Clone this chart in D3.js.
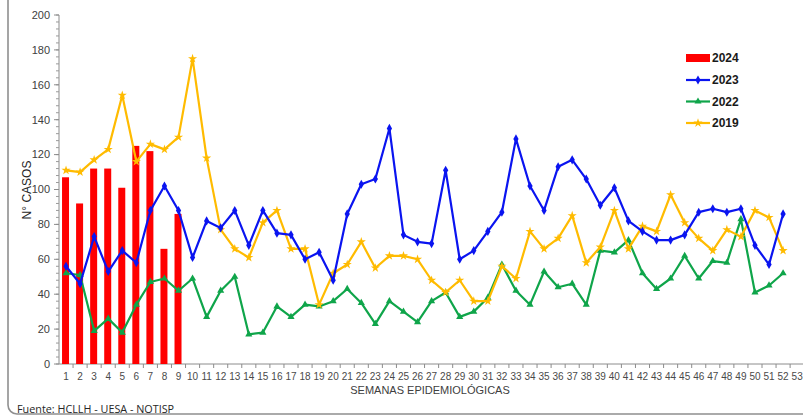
<!DOCTYPE html>
<html>
<head>
<meta charset="utf-8">
<script src="https://cdn.jsdelivr.net/npm/d3@7"></script>
<style>
  html, body { margin: 0; padding: 0; background: #fff; }
  svg { display: block; font-family: "Liberation Sans", Arial, sans-serif; }
</style>
</head>
<body>
<svg id="chart" width="803" height="416"></svg>
<script>
// Weekly case counts by epidemiological week
const weeks = d3.range(1, 54);
const yTicks = [0, 20, 40, 60, 80, 100, 120, 140, 160, 180, 200];

const cases2024 = [107, 92, 112, 112, 101, 125, 122, 66, 86];
const cases2023 = [56, 46, 73, 53, 65, 58, 88, 102, 88, 61, 82, 78, 88, 68, 88, 75, 74, 60, 64, 48,
  86, 103, 106, 135, 74, 70, 69, 111, 60, 65, 76, 87, 129, 102, 88, 113, 117, 106, 91, 101,
  82, 76, 71, 71, 74, 87, 89, 87, 89, 68, 57, 86];
const cases2022 = [52, 51, 19, 26, 18, 34, 47, 49, 42, 49, 27, 42, 50, 17, 18, 33, 27, 34, 33, 36,
  43, 35, 23, 36, 30, 24, 36, 41, 27, 30, 38, 57, 42, 34, 53, 44, 46, 34, 65, 64,
  71, 52, 43, 49, 62, 49, 59, 58, 83, 41, 45, 52];
const cases2019 = [111, 110, 117, 123, 154, 116, 126, 123, 130, 175, 118, 77, 66, 61, 81, 88, 66, 66, 34, 52,
  57, 70, 55, 62, 62, 60, 48, 41, 48, 36, 36, 56, 49, 76, 66, 72, 85, 58, 67, 88,
  66, 79, 76, 97, 81, 72, 65, 77, 73, 88, 84, 65];

const svg = d3.select("#chart");
const margin = { left: 59, top: 15, bottom: 52 };
const W = 803, H = 416;

// Outer frame
svg.append("rect")
  .attr("x", 8).attr("y", -20)
  .attr("width", 820).attr("height", 434)
  .attr("rx", 9).attr("ry", 9)
  .attr("fill", "none")
  .attr("stroke", "#8f8f8f")
  .attr("stroke-width", 1.6);

const x = d3.scaleBand()
  .domain(weeks)
  .range([margin.left, margin.left + 53 * 14.06])
  .paddingInner(0).paddingOuter(0);

const y = d3.scaleLinear()
  .domain([0, 200])
  .range([H - margin.bottom, margin.top]);

// Y axis with minor ticks every 4
const yMinor = d3.range(0, 201, 4);
const yAxisG = svg.append("g").attr("transform", `translate(${margin.left},0)`);
yAxisG.append("line")
  .attr("x1", 0).attr("x2", 0)
  .attr("y1", y(200)).attr("y2", y(0))
  .attr("stroke", "#8c8c8c").attr("stroke-width", 1);
yAxisG.selectAll("line.minor").data(yMinor).join("line")
  .attr("class", "minor")
  .attr("x1", -3).attr("x2", 0)
  .attr("y1", d => y(d)).attr("y2", d => y(d))
  .attr("stroke", "#9a9a9a");
yAxisG.selectAll("line.major").data(yTicks).join("line")
  .attr("class", "major")
  .attr("x1", -5).attr("x2", 0)
  .attr("y1", d => y(d)).attr("y2", d => y(d))
  .attr("stroke", "#8c8c8c");
yAxisG.selectAll("text").data(yTicks).join("text")
  .attr("x", -9).attr("y", d => y(d))
  .attr("dy", "0.35em")
  .attr("text-anchor", "end")
  .attr("font-size", 11)
  .attr("fill", "#404040")
  .text(d => d);

// X axis: ticks at band boundaries
const xAxisG = svg.append("g");
xAxisG.append("line")
  .attr("x1", margin.left).attr("x2", W)
  .attr("y1", y(0)).attr("y2", y(0))
  .attr("stroke", "#8c8c8c");
xAxisG.selectAll("line.tick").data(weeks).join("line")
  .attr("class", "tick")
  .attr("x1", d => x(d) + x.bandwidth()).attr("x2", d => x(d) + x.bandwidth())
  .attr("y1", y(0)).attr("y2", y(0) + 4)
  .attr("stroke", "#8c8c8c");
xAxisG.selectAll("text").data(weeks).join("text")
  .attr("x", d => x(d) + x.bandwidth() / 2)
  .attr("y", y(0) + 16)
  .attr("text-anchor", "middle")
  .attr("font-size", 10)
  .attr("fill", "#4a4a4a")
  .text(d => d);

// Axis titles
svg.append("text")
  .attr("x", 430).attr("y", 394)
  .attr("text-anchor", "middle")
  .attr("font-size", 11)
  .attr("fill", "#404040")
  .text("SEMANAS EPIDEMIOLÓGICAS");
svg.append("text")
  .attr("transform", "translate(31,190) rotate(-90)")
  .attr("text-anchor", "middle")
  .attr("font-size", 12)
  .attr("fill", "#262626")
  .text("N° CASOS");

// Source note
svg.append("text")
  .attr("x", 17).attr("y", 413)
  .attr("font-family", "'Open Sans', 'DejaVu Sans', sans-serif")
  .attr("font-size", 10.8)
  .attr("fill", "#262626")
  .text("Fuente: HCLLH - UESA - NOTISP");

// 2024 bars
const barW = 7;
svg.append("g").selectAll("rect").data(cases2024).join("rect")
  .attr("x", (d, i) => x(weeks[i]) + x.bandwidth() / 2 - barW / 2 - 0.5)
  .attr("y", d => y(d))
  .attr("width", barW)
  .attr("height", d => y(0) - y(d))
  .attr("fill", "#ff0000");

// Line series
const series = [
  { name: "2023", data: cases2023, color: "#0a14f0", symbol: d3.symbolDiamond, size: 24 },
  { name: "2022", data: cases2022, color: "#0fa54a", symbol: d3.symbolTriangle, size: 22 },
  { name: "2019", data: cases2019, color: "#ffbb00", symbol: d3.symbolStar, size: 26 }
];
const drawOrder = [series[1], series[2], series[0]];
const line = d3.line()
  .x((d, i) => x(weeks[i]) + x.bandwidth() / 2)
  .y(d => y(d));

drawOrder.forEach(s => {
  const g = svg.append("g");
  g.append("path")
    .datum(s.data)
    .attr("d", line)
    .attr("fill", "none")
    .attr("stroke", s.color)
    .attr("stroke-width", 2.2)
    .attr("stroke-linejoin", "round");
  g.selectAll("path.marker").data(s.data).join("path")
    .attr("class", "marker")
    .attr("transform", (d, i) => `translate(${x(weeks[i]) + x.bandwidth() / 2},${y(d)})`)
    .attr("d", d3.symbol().type(s.symbol).size(s.size))
    .attr("fill", s.color);
});

// Legend
const legend = svg.append("g").attr("transform", "translate(686,0)");
legend.append("rect")
  .attr("x", 0).attr("y", 54).attr("width", 24).attr("height", 8)
  .attr("fill", "#ff0000");
legend.append("text")
  .attr("x", 26).attr("y", 58).attr("dy", "0.35em")
  .attr("font-size", 12).attr("font-weight", "bold").attr("fill", "#1a1a1a")
  .text("2024");
series.forEach((s, i) => {
  const ly = 80 + i * 21.5;
  legend.append("line")
    .attr("x1", 0).attr("x2", 24)
    .attr("y1", ly).attr("y2", ly)
    .attr("stroke", s.color).attr("stroke-width", 2.2);
  legend.append("path")
    .attr("transform", `translate(12,${ly})`)
    .attr("d", d3.symbol().type(s.symbol).size(s.size))
    .attr("fill", s.color);
  legend.append("text")
    .attr("x", 26).attr("y", ly).attr("dy", "0.35em")
    .attr("font-size", 12).attr("font-weight", "bold").attr("fill", "#1a1a1a")
    .text(s.name);
});
</script>
</body>
</html>
